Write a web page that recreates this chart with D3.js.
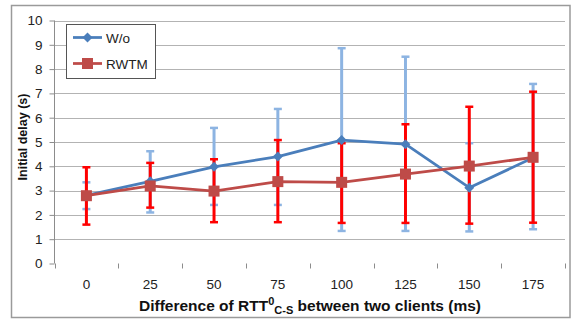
<!DOCTYPE html>
<html><head><meta charset="utf-8">
<script src="https://cdn.jsdelivr.net/npm/d3@7"></script>
<style>html,body{margin:0;padding:0;background:#fff;}svg{display:block;}</style>
</head><body>
<svg id="c" width="576" height="320"></svg>
<script>
const categories = ["0","25","50","75","100","125","150","175"];
const yTicks = [0,1,2,3,4,5,6,7,8,9,10];
const seriesNames = ["W/o","RWTM"];
const woValues   = [2.8, 3.38, 3.98, 4.40, 5.08, 4.91, 3.12, 4.35];
const woLow      = [2.24, 2.10, 2.41, 2.41, 1.34, 1.34, 1.32, 1.41];
const woHigh     = [3.34, 4.62, 5.58, 6.36, 8.86, 8.51, 4.95, 7.39];
const rwtmValues = [2.79, 3.19, 2.98, 3.37, 3.34, 3.68, 4.01, 4.37];
const rwtmLow    = [1.60, 2.30, 1.70, 1.70, 1.67, 1.67, 1.64, 1.68];
const rwtmHigh   = [3.96, 4.14, 4.29, 5.08, 4.95, 5.73, 6.45, 7.07];

const svg = d3.select("#c");
const font = "'Liberation Sans', Arial, sans-serif";

// outer frame
svg.append("rect").attr("x",11.5).attr("y",5.5).attr("width",558.5).attr("height",312)
  .attr("fill","#fff").attr("stroke","#9a9a9a").attr("stroke-width",1.5);

const x = d3.scaleBand().domain(categories).range([54.5, 565]).padding(0);
const y = d3.scaleLinear().domain([0,10]).range([263.5, 20.5]);
const cx = c => x(c) + x.bandwidth()/2;

// gridlines (not at 0)
svg.append("g").selectAll("line").data(yTicks.filter(t=>t>0)).join("line")
  .attr("x1",54.5).attr("x2",565).attr("y1",d=>Math.round(y(d))+0.5).attr("y2",d=>Math.round(y(d))+0.5)
  .attr("stroke","#b3b3b3").attr("stroke-width",1.2);

// y axis
const yAxis = svg.append("g").attr("transform","translate(54.5,0)")
  .call(d3.axisLeft(y).tickValues(yTicks).tickSize(5).tickPadding(7));
yAxis.select(".domain").attr("stroke","#8c8c8c").attr("d","M0,"+y(10)+"V"+y(0));
yAxis.selectAll(".tick line").attr("stroke","#8c8c8c");
yAxis.selectAll("text").attr("font-family",font).attr("font-size",13.5).attr("fill","#222");

// x axis labels and boundary ticks
const xAxis = svg.append("g").attr("transform","translate(0,"+y(0)+")")
  .call(d3.axisBottom(x).tickSize(0).tickPadding(16));
xAxis.select(".domain").remove();
xAxis.selectAll("text").attr("font-family",font).attr("font-size",13.5).attr("fill","#222");
const edges = categories.map(c=>x(c)).concat([x(categories[categories.length-1])+x.bandwidth()]);
svg.append("g").selectAll("line").data(edges).join("line")
  .attr("x1",d=>Math.round(d)+0.5).attr("x2",d=>Math.round(d)+0.5)
  .attr("y1",y(0)).attr("y2",y(0)+5).attr("stroke","#8c8c8c").attr("stroke-width",1);

// error bars
function errBars(low, high, color){
  const g = svg.append("g").attr("stroke",color).attr("stroke-width",3);
  categories.forEach((c,i)=>{
    g.append("line").attr("x1",cx(c)).attr("x2",cx(c)).attr("y1",y(low[i])).attr("y2",y(high[i]));
    [low[i],high[i]].forEach(v=>{
      g.append("line").attr("x1",cx(c)-4).attr("x2",cx(c)+4).attr("y1",y(v)).attr("y2",y(v)).attr("stroke-width",2.5);
    });
  });
}
errBars(woLow, woHigh, "#8db4e2");
errBars(rwtmLow, rwtmHigh, "#ff0000");

const line = d3.line().x((d,i)=>cx(categories[i])).y(d=>y(d));
// W/o
svg.append("path").datum(woValues).attr("d",line).attr("fill","none").attr("stroke","#4a7ebb").attr("stroke-width",2.75).attr("stroke-linejoin","round");
svg.append("g").selectAll("path").data(woValues).join("path")
  .attr("d",d3.symbol().type(d3.symbolSquare).size(50))
  .attr("transform",(d,i)=>"translate("+cx(categories[i])+","+y(d)+") rotate(45)")
  .attr("fill","#4a7ebb");
// RWTM
svg.append("path").datum(rwtmValues).attr("d",line).attr("fill","none").attr("stroke","#be4b48").attr("stroke-width",2.75).attr("stroke-linejoin","round");
svg.append("g").selectAll("rect").data(rwtmValues).join("rect")
  .attr("x",(d,i)=>cx(categories[i])-5.5).attr("y",d=>y(d)-5.5).attr("width",11).attr("height",11)
  .attr("fill","#be4b48");

// legend
const lg = svg.append("g");
lg.append("rect").attr("x",66.5).attr("y",24.5).attr("width",89).attr("height",54)
  .attr("fill","#fff").attr("stroke","#555").attr("stroke-width",1);
lg.append("line").attr("x1",73).attr("x2",102).attr("y1",37.5).attr("y2",37.5).attr("stroke","#4a7ebb").attr("stroke-width",2.75);
lg.append("path").attr("d",d3.symbol().type(d3.symbolSquare).size(50)).attr("transform","translate(87.5,37.5) rotate(45)").attr("fill","#4a7ebb");
lg.append("line").attr("x1",73).attr("x2",102).attr("y1",63.5).attr("y2",63.5).attr("stroke","#be4b48").attr("stroke-width",2.75);
lg.append("rect").attr("x",82).attr("y",58).attr("width",11).attr("height",11).attr("fill","#be4b48");
lg.append("text").attr("x",106).attr("y",42.5).text(seriesNames[0]).attr("font-family",font).attr("font-size",13.5).attr("fill","#222");
lg.append("text").attr("x",106).attr("y",68.5).text(seriesNames[1]).attr("font-family",font).attr("font-size",13.5).attr("fill","#222");

// axis titles
svg.append("text").attr("transform","translate(27,137) rotate(-90)").attr("text-anchor","middle")
  .attr("font-family",font).attr("font-size",12.5).attr("font-weight","bold").attr("fill","#111")
  .text("Initial delay (s)");
const t = svg.append("text").attr("x",310).attr("y",311).attr("text-anchor","middle")
  .attr("font-family",font).attr("font-size",15.5).attr("font-weight","bold").attr("fill","#111");
t.append("tspan").text("Difference of RTT");
t.append("tspan").attr("dy",-6).attr("font-size",11).text("0");
t.append("tspan").attr("dy",9).attr("font-size",11).text("C-S");
t.append("tspan").attr("dy",-3).text(" between two clients (ms)");
</script>
</body></html>
